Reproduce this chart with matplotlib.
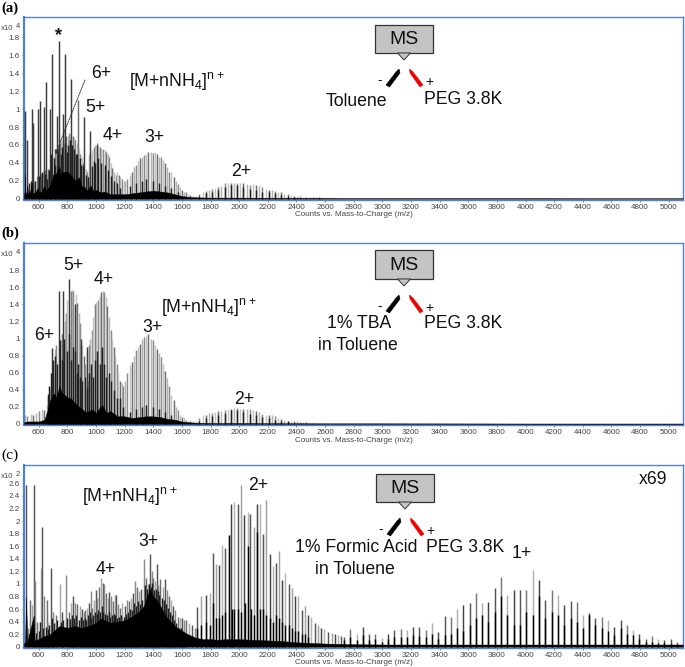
import matplotlib
matplotlib.use('Agg')
from matplotlib import pyplot as plt
import matplotlib.patches as patches

plt.rcParams['font.family'] = ['Liberation Sans', 'DejaVu Sans']
plt.rcParams['mathtext.fontset'] = 'custom'
plt.rcParams['mathtext.rm'] = 'Liberation Sans'
plt.rcParams['mathtext.default'] = 'rm'

x_ticks = list(range(600, 5001, 200))
y_labels_ab = ['0', '0.2', '0.4', '0.6', '0.8', '1', '1.2', '1.4', '1.6', '1.8']
y_labels_c = ['0', '0.2', '0.4', '0.6', '0.8', '1', '1.2', '1.4', '1.6', '1.8', '2', '2.2', '2.4', '2.6']

# ---- panel a ----
a_tall_mz = [504, 520, 551, 562, 593, 609, 637, 653, 681, 695, 725, 744, 772, 786, 828, 919, 960, 1005]
a_tall = [0.98, 0.65, 1.0, 0.85, 1.0, 1.09, 1.02, 1.3, 1.0, 1.62, 0.92, 1.76, 0.95, 1.62, 1.34, 0.91, 0.76, 0.6]
a_five_mz = [570, 585, 600, 615, 628, 645, 659, 668, 677, 686, 704, 713, 722, 731, 740, 748, 757, 766, 775, 793, 802, 811, 820, 838, 846, 855, 864, 874, 882, 891, 900, 909, 927, 936, 945]
a_five = [0.2, 0.25, 0.22, 0.28, 0.3, 0.32, 0.28, 0.33, 0.35, 0.4, 0.47, 0.5, 0.55, 0.58, 0.6, 0.62, 0.65, 0.66, 0.79, 0.7, 0.7, 0.73, 0.72, 0.7, 0.68, 0.65, 0.62, 1.1, 0.55, 0.5, 0.46, 0.4, 0.33, 0.3, 0.27]
a_four_mz = [950, 961, 972, 983, 994, 1005, 1016, 1027, 1038, 1049, 1060, 1071, 1082, 1093, 1104, 1115, 1126, 1137, 1148, 1159, 1170, 1181, 1192]
a_four = [0.5, 0.5, 0.54, 0.58, 0.6, 0.62, 0.6, 0.58, 0.56, 0.55, 0.54, 0.52, 0.5, 0.46, 0.4, 0.34, 0.3, 0.27, 0.3, 0.26, 0.24, 0.22, 0.2]
a_three_mz = [1205, 1219, 1234, 1249, 1263, 1278, 1293, 1307, 1322, 1337, 1351, 1366, 1381, 1395, 1410, 1425, 1439, 1454, 1469, 1483, 1498, 1513, 1527, 1542, 1557, 1571, 1586, 1601, 1615, 1630, 1645, 1659, 1674]
a_three = [0.2, 0.22, 0.26, 0.3, 0.35, 0.38, 0.42, 0.45, 0.47, 0.49, 0.5, 0.52, 0.52, 0.51, 0.52, 0.5, 0.47, 0.46, 0.43, 0.4, 0.35, 0.3, 0.3, 0.24, 0.2, 0.16, 0.13, 0.1, 0.08, 0.07, 0.05, 0.04, 0.03]
a_two_mz = [1700, 1722, 1744, 1766, 1788, 1810, 1832, 1854, 1876, 1898, 1920, 1942, 1964, 1986, 2008, 2030, 2052, 2074, 2096, 2118, 2140, 2162, 2184, 2206, 2228, 2250, 2272, 2294, 2316, 2338, 2360, 2382, 2404, 2426, 2448, 2470, 2492, 2514, 2536, 2558]
a_two = [0.03, 0.05, 0.07, 0.09, 0.1, 0.11, 0.12, 0.13, 0.14, 0.17, 0.17, 0.18, 0.18, 0.17, 0.18, 0.17, 0.16, 0.15, 0.16, 0.15, 0.14, 0.13, 0.11, 0.1, 0.1, 0.09, 0.08, 0.07, 0.05, 0.05, 0.04, 0.03, 0.03, 0.03, 0.02, 0.02, 0.02, 0.02, 0.015, 0.015]
a_dark_mz = [530, 545, 575, 600, 622, 645, 660, 672, 688, 705, 715, 735, 752, 762, 780, 795, 805, 815, 835, 845, 858, 870, 885, 897, 908, 930, 942, 972, 985, 996, 1016, 1038, 1060, 1082, 1104, 1126, 1148, 1170, 1234, 1278, 1322, 1351, 1395, 1439, 1483, 1527, 1571, 1722, 1766, 1810, 1854, 1898, 1942, 1986, 2030, 2074, 2118, 2162, 2206, 2250, 2294, 2338, 2382]
a_dark = [0.18, 0.2, 0.2, 0.25, 0.3, 0.28, 0.22, 0.32, 0.5, 0.45, 0.38, 0.55, 0.5, 0.58, 0.62, 0.52, 0.6, 0.66, 0.6, 0.55, 0.5, 0.5, 0.45, 0.38, 0.36, 0.26, 0.24, 0.36, 0.42, 0.4, 0.45, 0.4, 0.38, 0.32, 0.25, 0.2, 0.18, 0.12, 0.14, 0.18, 0.2, 0.22, 0.2, 0.18, 0.14, 0.12, 0.07, 0.03, 0.06, 0.08, 0.1, 0.13, 0.15, 0.15, 0.13, 0.11, 0.1, 0.08, 0.07, 0.06, 0.04, 0.03, 0.02]
a_fill_mz = [497, 502, 504, 507, 515, 520, 524, 540, 551, 556, 575, 593, 600, 620, 637, 650, 665, 680, 695, 700, 720, 744, 750, 770, 800, 820, 840, 860, 880, 900, 920, 940, 960, 985, 1005, 1030, 1060, 1100, 1150, 1200, 1250, 1300, 1350, 1400, 1450, 1500, 1550, 1600, 1650, 1700, 1800, 2000, 2300, 2600, 2700, 3000, 3500, 4000, 4500, 5098]
a_fill = [0.06, 0.07, 0.28, 0.08, 0.05, 0.15, 0.06, 0.08, 0.18, 0.06, 0.07, 0.12, 0.07, 0.08, 0.14, 0.09, 0.12, 0.15, 0.22, 0.27, 0.28, 0.36, 0.28, 0.3, 0.3, 0.27, 0.23, 0.2, 0.24, 0.14, 0.13, 0.09, 0.15, 0.08, 0.1, 0.07, 0.08, 0.05, 0.05, 0.05, 0.06, 0.07, 0.08, 0.09, 0.08, 0.07, 0.05, 0.03, 0.02, 0.015, 0.012, 0.012, 0.01, 0.01, 0.008, 0.008, 0.008, 0.008, 0.006, 0.006]

# ---- panel b ----
b_tall_mz = [695, 741, 772, 814, 850, 895, 937]
b_tall = [0.89, 1.55, 1.55, 1.7, 1.4, 1.0, 0.9]
b_five_mz = [505, 520, 545, 560, 580, 600, 620, 640, 655, 668, 680, 700, 712, 724, 750, 760, 782, 790, 800, 822, 832, 842, 858, 868, 878, 888, 905, 915, 925, 945]
b_five = [0.1, 0.09, 0.12, 0.1, 0.13, 0.15, 0.17, 0.16, 0.22, 0.3, 0.42, 0.6, 0.88, 0.92, 0.98, 1.05, 1.2, 1.3, 1.45, 1.55, 1.57, 1.55, 1.52, 1.42, 1.3, 1.18, 0.92, 0.8, 0.65, 0.5]
b_four_mz = [915, 926, 937, 948, 959, 970, 981, 992, 1003, 1014, 1025, 1036, 1047, 1058, 1069, 1080, 1091, 1102, 1113, 1124, 1135, 1146, 1157, 1168, 1179, 1190]
b_four = [0.55, 0.7, 0.85, 0.92, 1.0, 1.1, 1.25, 1.4, 1.43, 1.45, 1.5, 1.54, 1.55, 1.54, 1.48, 1.38, 1.25, 1.1, 1.0, 0.9, 0.8, 0.7, 0.6, 0.5, 0.48, 0.45]
b_three_mz = [1205, 1219, 1234, 1249, 1263, 1278, 1293, 1307, 1322, 1337, 1351, 1366, 1381, 1395, 1410, 1425, 1439, 1454, 1469, 1483, 1498, 1513, 1527, 1542, 1557, 1571, 1586, 1601, 1615, 1630, 1645, 1659, 1674]
b_three = [0.5, 0.6, 0.69, 0.73, 0.8, 0.86, 0.9, 0.93, 1.0, 1.02, 1.03, 1.05, 1.0, 0.98, 0.92, 0.88, 0.83, 0.78, 0.7, 0.62, 0.54, 0.45, 0.34, 0.28, 0.2, 0.16, 0.1, 0.08, 0.07, 0.05, 0.04, 0.04, 0.03]
b_two_mz = [1700, 1722, 1744, 1766, 1788, 1810, 1832, 1854, 1876, 1898, 1920, 1942, 1964, 1986, 2008, 2030, 2052, 2074, 2096, 2118, 2140, 2162, 2184, 2206, 2228, 2250, 2272, 2294, 2316, 2338, 2360, 2382, 2404, 2426, 2448, 2470, 2492, 2514]
b_two = [0.04, 0.07, 0.1, 0.1, 0.13, 0.13, 0.14, 0.15, 0.15, 0.16, 0.17, 0.18, 0.19, 0.19, 0.18, 0.18, 0.17, 0.17, 0.16, 0.15, 0.14, 0.12, 0.11, 0.1, 0.1, 0.09, 0.07, 0.06, 0.05, 0.04, 0.03, 0.03, 0.03, 0.02, 0.02, 0.02, 0.015, 0.015]
b_dark_mz = [665, 675, 688, 702, 716, 730, 748, 765, 778, 795, 808, 826, 838, 852, 864, 876, 890, 902, 920, 935, 952, 965, 978, 995, 1010, 1030, 1042, 1055, 1072, 1090, 1108, 1125, 1145, 1165, 1190, 1234, 1278, 1322, 1351, 1395, 1439, 1483, 1527, 1722, 1766, 1810, 1854, 1898, 1942, 1986, 2030, 2074, 2118, 2162, 2206, 2250, 2294, 2338]
b_dark = [0.35, 0.45, 0.6, 0.75, 0.8, 0.7, 0.98, 0.75, 1.0, 0.85, 1.05, 0.75, 0.9, 0.85, 0.6, 0.7, 0.55, 0.5, 0.55, 0.42, 0.6, 0.7, 0.55, 0.75, 0.85, 0.7, 0.9, 0.7, 0.55, 0.6, 0.5, 0.4, 0.3, 0.3, 0.2, 0.14, 0.18, 0.2, 0.22, 0.2, 0.18, 0.14, 0.1, 0.03, 0.07, 0.09, 0.11, 0.13, 0.16, 0.16, 0.14, 0.12, 0.1, 0.08, 0.07, 0.05, 0.04, 0.03]
b_fill_mz = [497, 520, 560, 600, 640, 655, 670, 680, 695, 705, 720, 735, 745, 760, 780, 800, 825, 850, 875, 900, 925, 950, 975, 1000, 1025, 1045, 1070, 1100, 1150, 1200, 1250, 1300, 1350, 1400, 1450, 1500, 1550, 1600, 1650, 1700, 1800, 2000, 2300, 2600, 3000, 4000, 5098]
b_fill = [0.02, 0.03, 0.03, 0.03, 0.05, 0.13, 0.2, 0.28, 0.33, 0.36, 0.31, 0.38, 0.45, 0.36, 0.34, 0.31, 0.3, 0.25, 0.21, 0.18, 0.14, 0.15, 0.17, 0.13, 0.19, 0.22, 0.13, 0.15, 0.09, 0.09, 0.07, 0.08, 0.09, 0.09, 0.08, 0.06, 0.05, 0.03, 0.02, 0.015, 0.012, 0.012, 0.01, 0.008, 0.008, 0.006, 0.006]

# ---- panel c ----
c_low_mz = [511, 525, 541, 551, 565, 577, 590, 616, 623, 640, 656, 668, 687, 700, 720, 745, 765, 787, 810, 825, 840, 855, 870, 885, 900, 913, 925, 938, 950, 962, 975, 985, 997, 1010, 1022, 1035, 1046, 1058, 1070, 1082, 1094, 1106, 1118, 1130, 1142, 1155, 1170, 1185, 1200, 1215, 1230, 1245, 1260, 1270, 1285, 1300, 1315, 1335, 1350, 1362, 1375, 1388, 1400, 1412, 1423, 1435, 1450, 1465, 1480, 1495, 1510, 1525, 1540, 1555, 1570, 1585, 1600, 1615, 1630, 1650, 1670, 1690]
c_low = [2.57, 0.3, 0.75, 0.67, 2.57, 1.04, 0.4, 1.25, 1.9, 0.8, 0.75, 0.4, 1.26, 0.55, 0.5, 1.0, 0.55, 1.14, 0.55, 0.7, 0.8, 0.7, 0.68, 0.65, 0.6, 0.55, 0.58, 0.62, 0.7, 0.88, 0.62, 0.75, 0.9, 0.78, 0.95, 1.09, 1.02, 1.0, 0.85, 0.78, 0.87, 0.8, 0.72, 0.83, 0.82, 0.68, 0.62, 0.7, 0.65, 0.75, 0.72, 0.78, 0.85, 1.05, 0.95, 0.88, 0.92, 1.39, 1.1, 1.0, 1.48, 1.2, 1.1, 1.05, 1.32, 0.98, 1.08, 0.95, 1.08, 0.9, 0.8, 0.75, 0.65, 0.58, 0.48, 0.46, 0.45, 0.43, 0.42, 0.38, 0.35, 0.3]
c_low_dark_mz = [530, 558, 584, 600, 610, 630, 648, 662, 675, 694, 710, 730, 752, 772, 795, 818, 832, 848, 862, 878, 892, 906, 920, 932, 945, 956, 968, 980, 992, 1004, 1016, 1028, 1040, 1052, 1064, 1076, 1088, 1100, 1112, 1124, 1136, 1148, 1162, 1178, 1192, 1208, 1222, 1238, 1252, 1265, 1278, 1292, 1308, 1322, 1342, 1356, 1368, 1382, 1394, 1406, 1418, 1430, 1442, 1458, 1472, 1488, 1502, 1518, 1532, 1548, 1562, 1578, 1592, 1608, 1622]
c_low_dark = [0.2, 0.3, 0.22, 0.25, 0.4, 0.3, 0.32, 0.28, 0.35, 0.45, 0.38, 0.42, 0.4, 0.42, 0.45, 0.44, 0.5, 0.46, 0.5, 0.42, 0.48, 0.42, 0.45, 0.42, 0.5, 0.55, 0.45, 0.5, 0.55, 0.52, 0.58, 0.55, 0.65, 0.55, 0.52, 0.5, 0.55, 0.48, 0.5, 0.52, 0.5, 0.45, 0.48, 0.5, 0.48, 0.52, 0.55, 0.6, 0.58, 0.7, 0.65, 0.72, 0.68, 0.75, 0.98, 0.92, 1.0, 0.95, 1.02, 0.9, 0.92, 0.88, 0.82, 0.78, 0.75, 0.68, 0.62, 0.55, 0.5, 0.42, 0.38, 0.3, 0.3, 0.25, 0.22]
c_two_mz = [1704, 1730, 1767, 1793, 1814, 1835, 1858, 1880, 1903, 1929, 1943, 1966, 1989, 2013, 2034, 2060, 2078, 2102, 2123, 2146, 2167, 2188, 2212, 2233, 2256, 2277, 2300, 2322, 2345, 2366, 2387, 2410, 2436, 2459, 2480, 2504, 2527, 2549, 2572, 2595, 2620, 2645, 2668, 2690, 2712]
c_two = [0.63, 0.8, 0.82, 0.85, 1.5, 1.32, 1.3, 1.62, 1.57, 1.78, 2.28, 2.3, 2.28, 2.57, 2.1, 2.15, 2.12, 1.9, 2.28, 2.27, 1.8, 2.33, 1.47, 1.28, 1.33, 1.53, 1.07, 1.18, 1.0, 0.93, 0.8, 0.8, 0.58, 0.65, 0.5, 0.47, 0.38, 0.35, 0.3, 0.28, 0.24, 0.22, 0.2, 0.18, 0.17]
c_two_dark_mz = [1704, 1730, 1767, 1793, 1814, 1835, 1858, 1880, 1903, 1929, 1952, 1966, 1989, 2013, 2038, 2060, 2082, 2102, 2123, 2146, 2167, 2190, 2212, 2233, 2256, 2277, 2300, 2322, 2345, 2366, 2387, 2410, 2436, 2459, 2480]
c_two_dark = [0.3, 0.35, 0.4, 0.35, 0.7, 0.45, 0.45, 0.5, 0.55, 1.78, 0.6, 0.6, 0.6, 0.55, 0.7, 1.6, 0.6, 0.5, 1.82, 0.6, 0.6, 0.5, 0.45, 0.4, 0.5, 0.45, 0.4, 0.35, 0.35, 0.3, 0.25, 0.25, 0.2, 0.2, 0.15]
c_one_mz = [2732, 2774, 2820, 2862, 2907, 2948, 2995, 3040, 3082, 3128, 3172, 3214, 3258, 3302, 3347, 3392, 3436, 3480, 3524, 3566, 3611, 3655, 3699, 3741, 3786, 3830, 3874, 3918, 3963, 4005, 4049, 4093, 4137, 4182, 4224, 4268, 4315, 4357, 4401, 4445, 4487, 4531, 4576, 4620, 4664, 4708, 4750, 4795, 4839, 4883, 4927, 4970, 5014, 5058]
c_one = [0.16, 0.28, 0.2, 0.31, 0.2, 0.21, 0.14, 0.21, 0.26, 0.28, 0.27, 0.31, 0.31, 0.26, 0.38, 0.23, 0.49, 0.48, 0.6, 0.66, 0.69, 0.86, 0.69, 0.71, 0.93, 1.11, 0.82, 0.91, 0.9, 0.91, 1.22, 1.07, 0.74, 0.9, 0.82, 0.66, 0.73, 0.71, 0.51, 0.54, 0.45, 0.47, 0.43, 0.31, 0.43, 0.34, 0.26, 0.21, 0.13, 0.17, 0.12, 0.11, 0.12, 0.08]
c_one_dark = [0.1, 0.15, 0.1, 0.18, 0.1, 0.12, 0.08, 0.12, 0.15, 0.16, 0.15, 0.18, 0.17, 0.15, 0.2, 0.13, 0.18, 0.2, 0.3, 0.25, 0.35, 0.45, 0.5, 0.4, 0.55, 0.8, 0.5, 0.35, 0.35, 0.55, 0.5, 0.8, 0.45, 0.55, 0.5, 0.35, 0.45, 0.4, 0.3, 0.5, 0.35, 0.3, 0.25, 0.18, 0.3, 0.2, 0.18, 0.12, 0.08, 0.08, 0.06, 0.06, 0.05, 0.04]
c_fill_mz = [497, 505, 511, 520, 565, 570, 600, 640, 680, 700, 745, 800, 850, 900, 950, 1000, 1035, 1100, 1150, 1200, 1250, 1300, 1335, 1350, 1375, 1400, 1425, 1450, 1475, 1500, 1550, 1600, 1650, 1700, 1750, 1800, 1850, 1900, 2000, 2100, 2200, 2300, 2400, 2500, 2600, 2800, 3000, 3500, 4000, 4500, 5098]
c_fill = [0.05, 0.08, 0.8, 0.07, 0.5, 0.1, 0.12, 0.17, 0.2, 0.24, 0.33, 0.3, 0.33, 0.3, 0.33, 0.38, 0.45, 0.38, 0.4, 0.42, 0.48, 0.56, 0.65, 0.75, 0.92, 0.8, 0.74, 0.64, 0.54, 0.45, 0.33, 0.25, 0.19, 0.14, 0.12, 0.12, 0.11, 0.12, 0.12, 0.11, 0.1, 0.09, 0.07, 0.06, 0.05, 0.04, 0.035, 0.035, 0.035, 0.035, 0.035]

BLUE = '#4f82d6'
LIGHT = ['#b4b4b4', '#8a8a8a', '#c4c4c4', '#6e6e6e']
DARK = '#3c3c3c'
W, H = 685, 667


def make_axes(fig, top, bottom, y0, scale, yticks, ylabels):
    left, right = 24, 683
    ax = fig.add_axes([left / W, 1 - bottom / H, (right - left) / W, (bottom - top) / H])
    ax.set_xlim(497, 5100)
    ax.set_ylim((y0 - bottom) / scale, (y0 - top) / scale)
    ax.set_xticks(x_ticks)
    ax.set_xticklabels([str(t) for t in x_ticks])
    ax.set_yticks(yticks)
    ax.set_yticklabels(ylabels)
    ax.tick_params(axis='both', labelsize=5.8, length=1.5, width=0.5, pad=1.5, color='#555555', labelcolor='#444444')
    for s in ax.spines.values():
        s.set_color(BLUE)
        s.set_linewidth(1.0)
    ax.spines['left'].set_linewidth(1.6)
    ax.set_zorder(1)
    return ax


def peaks(ax, mz, vals, colors, lw=1.05, z=2):
    ax.vlines(mz, 0, vals, colors=colors, linewidth=lw, zorder=z)


def black_mass(ax, mz, vals):
    ax.fill_between(mz, 0, vals, color='black', linewidth=0.3, zorder=4)


fig = plt.figure(figsize=(6.85, 6.67), dpi=100)

ax_a = make_axes(fig, 17, 200, 198.7, 89.6, [i * 0.2 for i in range(10)], y_labels_ab)
peaks(ax_a, a_five_mz, a_five, LIGHT)
peaks(ax_a, a_four_mz, a_four, LIGHT)
peaks(ax_a, a_three_mz, a_three, LIGHT)
peaks(ax_a, a_two_mz, a_two, LIGHT)
peaks(ax_a, a_tall_mz, a_tall, DARK, z=3)
peaks(ax_a, a_dark_mz, a_dark, '#202020', z=3)
black_mass(ax_a, a_fill_mz, a_fill)

ax_b = make_axes(fig, 243, 425, 424, 85.5, [i * 0.2 for i in range(10)], y_labels_ab)
peaks(ax_b, b_five_mz, b_five, LIGHT)
peaks(ax_b, b_four_mz, b_four, LIGHT)
peaks(ax_b, b_three_mz, b_three, LIGHT)
peaks(ax_b, b_two_mz, b_two, LIGHT)
peaks(ax_b, b_tall_mz, b_tall, DARK, z=3)
peaks(ax_b, b_dark_mz, b_dark, '#202020', z=3)
black_mass(ax_b, b_fill_mz, b_fill)

ax_c = make_axes(fig, 465, 648, 646.7, 62.8, [i * 0.2 for i in range(14)], y_labels_c)
peaks(ax_c, c_low_mz, c_low, ['#555555', '#8a8a8a', '#6e6e6e', '#a8a8a8'])
peaks(ax_c, c_two_mz, c_two, ['#555555', '#a0a0a0', '#444444', '#b4b4b4'])
peaks(ax_c, c_one_mz, c_one, ['#555555', '#777777', '#b0b0b0', '#444444'])
peaks(ax_c, c_low_dark_mz, c_low_dark, '#202020', z=3)
peaks(ax_c, c_two_dark_mz, c_two_dark, 'black', z=3)
peaks(ax_c, c_one_mz, c_one_dark, 'black', z=3)
black_mass(ax_c, c_fill_mz, c_fill)

# overlay in pixel coordinates for labels and the emitter sketch
ov = fig.add_axes([0, 0, 1, 1], facecolor='none')
ov.set_xlim(0, W)
ov.set_ylim(H, 0)
ov.axis('off')
ov.set_zorder(5)


def lab(x, y, s, size=12.7, **kw):
    ov.text(x, y, s, fontsize=size, ha='center', va='center', color='#111111', **kw)


def emitter(box_x, box_y):
    x0, y0 = box_x
    ov.add_patch(patches.Rectangle((x0, y0), 58, box_y, facecolor='#c4c4c4', edgecolor='#333333', linewidth=0.9))
    mid = x0 + 29
    bottom = y0 + box_y
    ov.add_patch(patches.Polygon([(mid - 6.5, bottom), (mid + 6.5, bottom), (mid, bottom + 7)], facecolor='#c4c4c4', edgecolor='#333333', linewidth=0.7))
    lab(mid, y0 + box_y / 2 + 0.5, 'MS', size=14)
    ny = bottom + 16
    ov.add_patch(patches.Polygon([(mid - 5, ny), (mid - 4, ny + 4), (mid - 14.5, ny + 18), (mid - 18, ny + 16), (mid - 8, ny + 3)], facecolor='black', edgecolor='black', linewidth=0.4))
    ov.add_patch(patches.Polygon([(mid + 5.5, ny), (mid + 9, ny + 3), (mid + 19, ny + 16), (mid + 16, ny + 18), (mid + 6, ny + 4)], facecolor='#f00000', edgecolor='#f00000', linewidth=0.4))
    lab(mid - 24.5, ny + 11, '-', size=10)
    lab(mid + 25, ny + 13, '+', size=10)


serif = ['Liberation Serif', 'DejaVu Serif']
ov.text(1, 8, '(a)', fontsize=10.5, family=serif, weight='bold', ha='left', va='center', color='black')
ov.text(1, 233, '(b)', fontsize=10.5, family=serif, weight='bold', ha='left', va='center', color='black')
ov.text(1, 455, '(c)', fontsize=11, family=serif, ha='left', va='center', color='black')

FORMULA = r'[M+nNH$_4$]$^{n+}$'
# a
lab(101, 73, '6+')
lab(95, 107, '5+')
lab(113, 135, '4+')
lab(154, 137, '3+')
lab(241, 171, '2+')
lab(177, 82, FORMULA)
lab(59, 36, '*', size=13, weight='bold')
ov.annotate('', xy=(55, 155), xytext=(85, 80), arrowprops=dict(arrowstyle='-|>', linestyle=(0, (1.2, 1.2)), color='#333333', lw=0.7, mutation_scale=7, shrinkA=0, shrinkB=0))
emitter((375, 25), 28)
lab(356, 101, 'Toluene')
lab(463, 100, 'PEG 3.8K')
# b
lab(44, 335, '6+')
lab(73, 266, '5+')
lab(104, 279, '4+')
lab(152, 327, '3+')
lab(244, 399, '2+')
lab(209, 308, FORMULA)
emitter((375, 250), 29)
lab(359, 324, '1% TBA')
lab(358, 345, 'in Toluene')
lab(463, 324, 'PEG 3.8K')
# c
lab(106, 570, '4+')
lab(148, 541, '3+')
lab(258, 486, '2+')
lab(522, 553, '1+')
lab(130, 497, FORMULA)
lab(653, 480, 'x69')
emitter((376, 474), 28)
lab(356, 548, '1% Formic Acid')
lab(355, 569, 'in Toluene')
lab(465, 548, 'PEG 3.8K')

for y in (28, 253, 476):
    ov.text(1, y + 1, 'x10', fontsize=5.6, color='#444444', ha='left', va='center')
for y, s in ((27, '4'), (252, '4'), (475, '2')):
    ov.text(18, y, s, fontsize=5.6, color='#444444', ha='center', va='center')
for y in (214, 440, 662):
    ov.text(354, y, 'Counts vs. Mass-to-Charge (m/z)', fontsize=5.8, color='#444444', ha='center', va='center')

fig.savefig('out.png', dpi=100)
